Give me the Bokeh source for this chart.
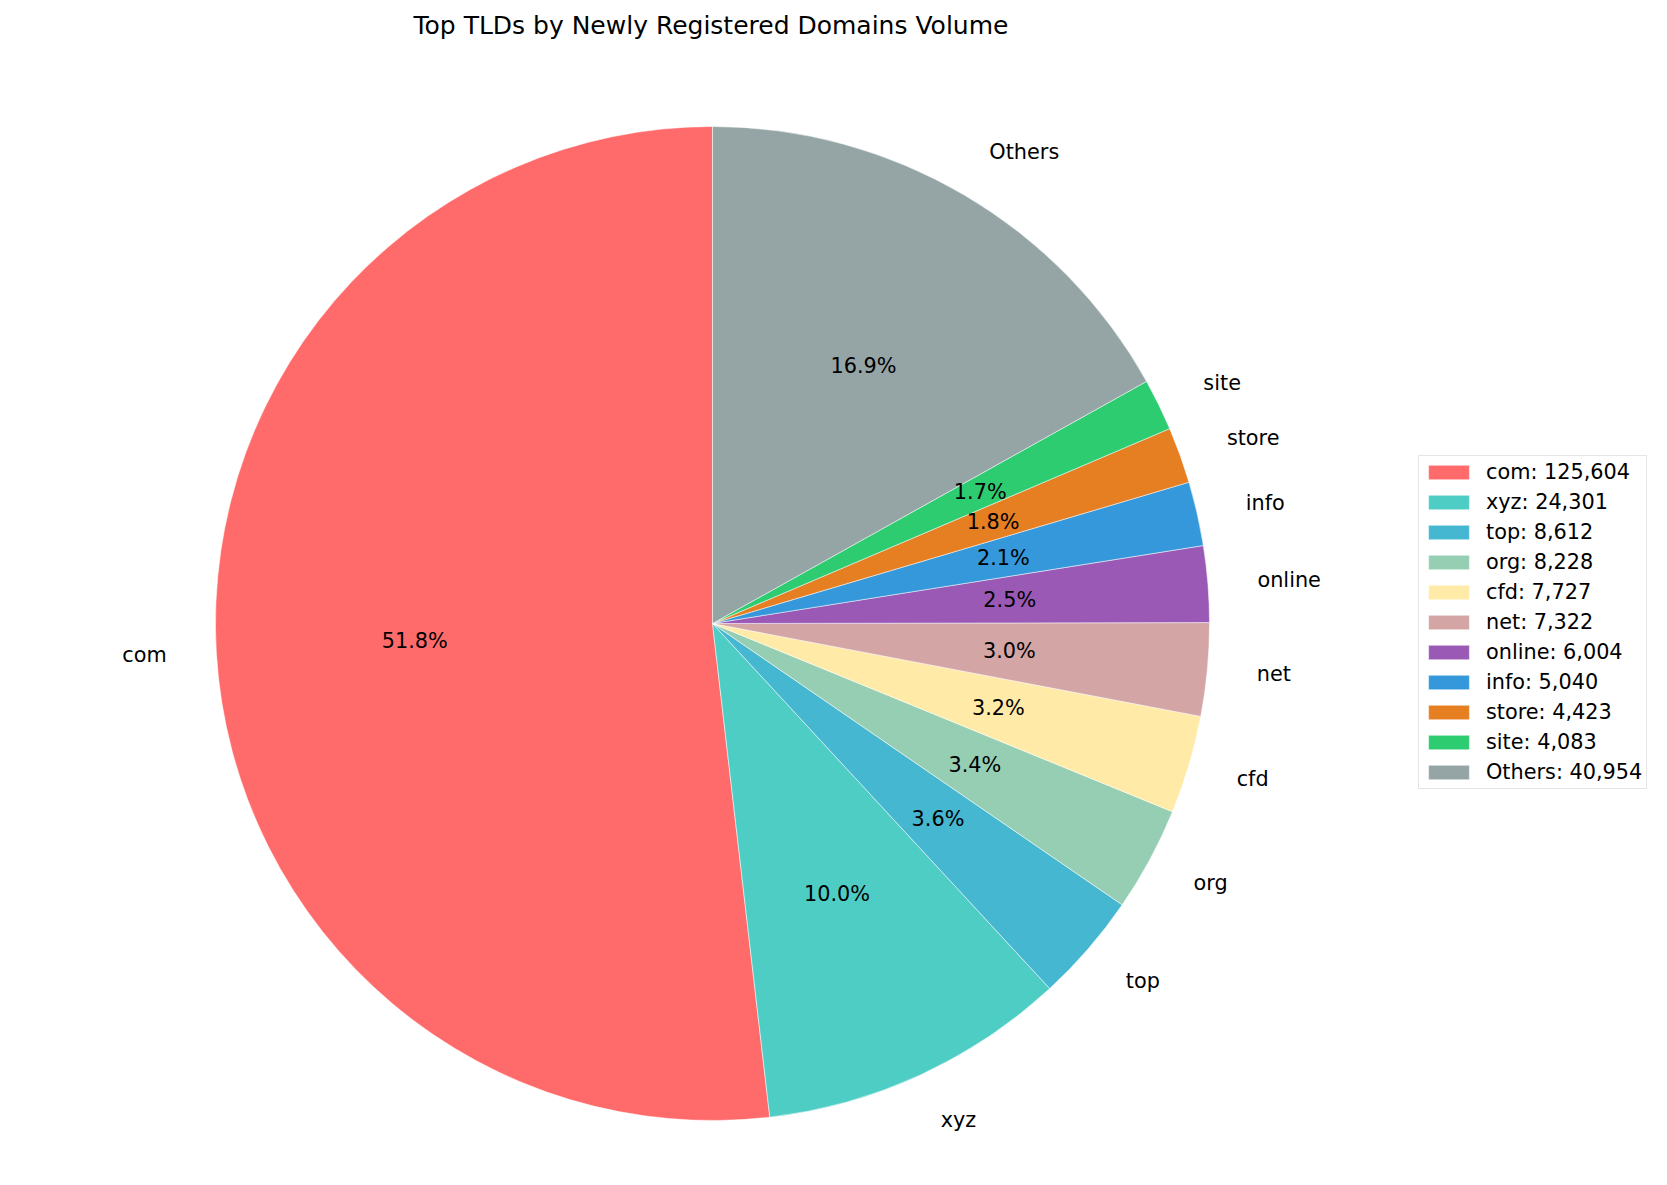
import math
from bokeh.plotting import figure
from bokeh.models import ColumnDataSource, Legend, LegendItem, Range1d
from bokeh.core.properties import value
from bokeh.embed import file_html
from bokeh.resources import INLINE

# ---- data ----
tlds = ["com", "xyz", "top", "org", "cfd", "net", "online", "info", "store", "site", "Others"]
counts = [125604, 24301, 8612, 8228, 7727, 7322, 6004, 5040, 4423, 4083, 40954]
colors = ["#FF6B6B", "#4ECDC4", "#45B7D1", "#96CEB4", "#FFEAA7", "#D4A5A5",
          "#9B59B6", "#3498DB", "#E67E22", "#2ECC71", "#95A5A6"]
title_text = "Top TLDs by Newly Registered Domains Volume"

# ---- layout constants (screen pixels) ----
FW = 1651
FH = 1132
CX, CY = 712, 556      # pie centre in frame pixels (x from left, y from bottom)
R = 497
FONT = "DejaVu Sans"
FS = "20.8px"

total = sum(counts)
starts, ends, mids = [], [], []
acc = 0.0
for c in counts:
    a0 = math.pi / 2 + 2 * math.pi * acc / total
    acc += c
    a1 = math.pi / 2 + 2 * math.pi * acc / total
    starts.append(a0)
    ends.append(a1)
    mids.append((a0 + a1) / 2)

src = ColumnDataSource(dict(
    start=starts, end=ends, color=colors,
    x=[CX] * len(counts), y=[CY] * len(counts),
))

p = figure(frame_width=FW, frame_height=FH, output_backend="svg", toolbar_location=None,
           x_range=Range1d(0, FW), y_range=Range1d(0, FH),
           min_border=0, min_border_left=0, min_border_right=0, min_border_bottom=0)
p.axis.visible = False
p.grid.visible = False
p.outline_line_color = None
p.background_fill_color = "white"
p.border_fill_color = "white"

p.title.text = title_text
p.title.align = "left"
p.title.offset = 413
p.title.standoff = 16
p.title.text_font = FONT
p.title.text_font_size = "25px"
p.title.text_font_style = "normal"
p.title.text_color = "black"

wr = p.wedge(x="x", y="y", radius=R, start_angle="start", end_angle="end",
             fill_color="color", line_color="white", line_width=0.5, source=src)

# outer labels and percentages
lx, ly, ltxt, lal = [], [], [], []
px, py, ptxt = [], [], []
for name, c, m in zip(tlds, counts, mids):
    lx.append(CX + 1.1 * R * math.cos(m))
    ly.append(CY + 1.1 * R * math.sin(m))
    ltxt.append(name)
    lal.append("left" if math.cos(m) > 0 else "right")
    px.append(CX + 0.6 * R * math.cos(m))
    py.append(CY + 0.6 * R * math.sin(m))
    ptxt.append(f"{100.0 * c / total:.1f}%")

lsrc = ColumnDataSource(dict(x=lx, y=ly, text=ltxt, align=lal))
p.text(x="x", y="y", text="text", text_align="align", text_baseline="middle",
       text_font=value(FONT), text_font_size=FS, text_color="black", source=lsrc)
psrc = ColumnDataSource(dict(x=px, y=py, text=ptxt))
p.text(x="x", y="y", text="text", text_align="center", text_baseline="middle",
       text_font=value(FONT), text_font_size=FS, text_color="black", source=psrc)

items = [LegendItem(label=f"{n}: {c:,}", renderers=[wr], index=i)
         for i, (n, c) in enumerate(zip(tlds, counts))]
legend = Legend(items=items, location=(1418, 390),
                glyph_width=51, glyph_height=18, label_standoff=12,
                label_height=24, label_width=155, spacing=6, padding=4, margin=0,
                label_text_font=FONT, label_text_font_size=FS, label_text_color="black",
                border_line_color="#cccccc", border_line_width=1,
                background_fill_alpha=0.8)
p.add_layout(legend, "center")

open("out.html", "w").write(file_html(p, INLINE))
